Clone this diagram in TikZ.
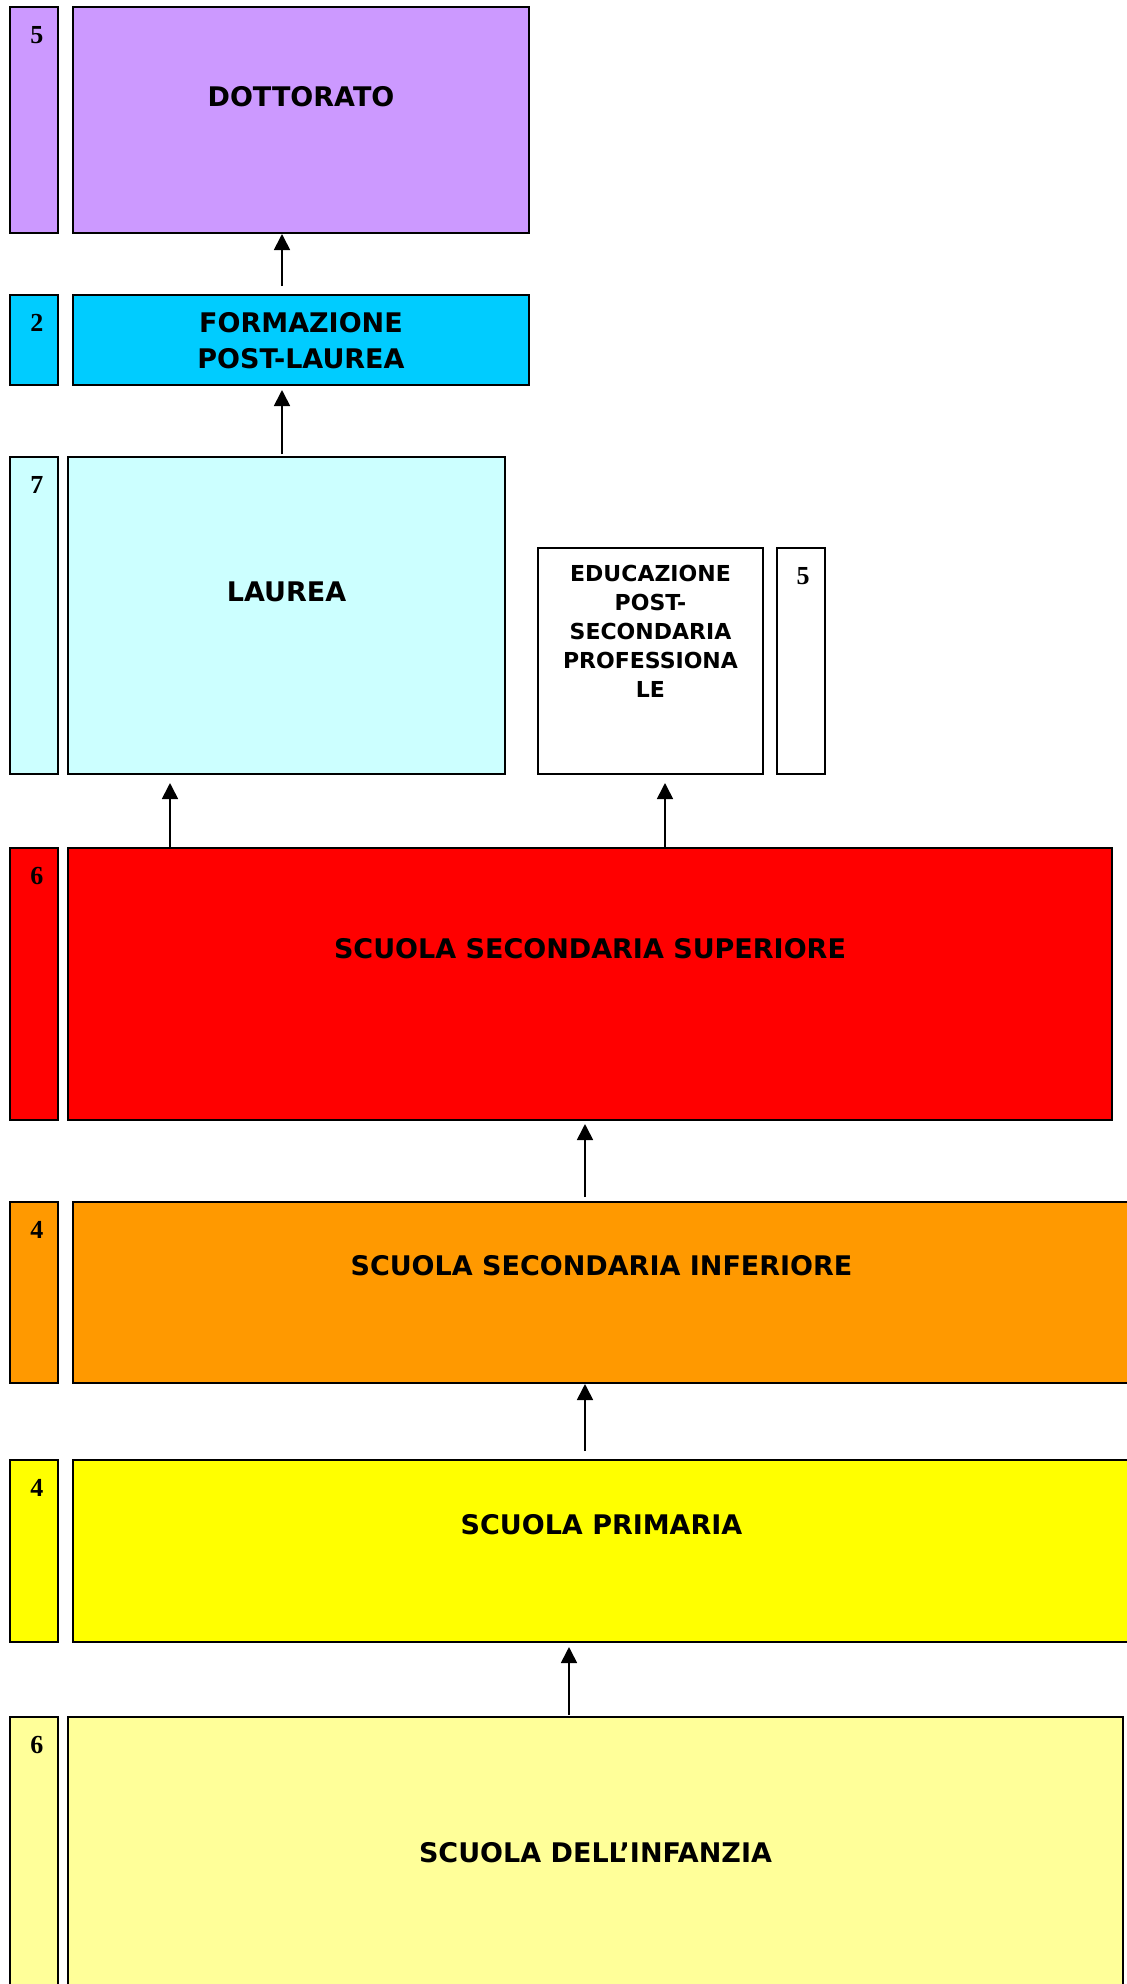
\documentclass[tikz,border=0pt]{standalone}
\usepackage{fontspec}
\setmainfont{Liberation Serif}
\newfontfamily\lblfont{DejaVu Sans Bold}
\usepackage{xcolor}
\usepackage{tikz}
\usetikzlibrary{arrows.meta, positioning}
\definecolor{dottcol}{HTML}{CC99FF}
\definecolor{formcol}{HTML}{00CCFF}
\definecolor{laurcol}{HTML}{CCFFFF}
\definecolor{supcol}{HTML}{FF0000}
\definecolor{infcol}{HTML}{FF9900}
\definecolor{primcol}{HTML}{FFFF00}
\definecolor{matcol}{HTML}{FFFF99}
\def\bigt{\lblfont\fontsize{27}{36}\selectfont}
\def\smallt{\lblfont\fontsize{22}{29}\selectfont}
\def\numt{\bfseries\fontsize{26}{30}\selectfont}

\begin{document}
\begin{tikzpicture}[x=1pt,y=-1pt,
  box/.style={draw,line width=2.2pt,anchor=north west,inner sep=0pt,outer sep=0pt},
  yrs/.style={font=\numt,anchor=north,inner sep=0pt},
  lbl/.style={font=\bigt,align=center,inner sep=0pt},
  arr/.style={line width=1.7pt,-{Triangle[length=16pt,width=16pt]}}]
\useasboundingbox (0,0) rectangle (1127,1984);
\clip (0,0) rectangle (1127,1984);
% dottorato
\node[box,fill=dottcol,minimum width=48,minimum height=226] (n5a) at (10,7) {};
\node[box,fill=dottcol,minimum width=456,minimum height=226] (dott) at (73,7) {};
\node[yrs] (y5a) at ([xshift=3pt,yshift=-19pt]n5a.north) {5};
\node[lbl] (tdott) at ([yshift=-90pt]dott.north) {DOTTORATO};
% formazione post-laurea
\node[box,fill=formcol,minimum width=48,minimum height=90] (n2) at (10,295) {};
\node[box,fill=formcol,minimum width=456,minimum height=90] (form) at (73,295) {};
\node[yrs] (y2) at ([xshift=3pt,yshift=-19pt]n2.north) {2};
\node[lbl] (tform) at ([yshift=-46pt]form.north) {FORMAZIONE\\POST-LAUREA};
% laurea
\node[box,fill=laurcol,minimum width=48,minimum height=317] (n7) at (10,457) {};
\node[box,fill=laurcol,minimum width=437,minimum height=317] (laurea) at (68,457) {};
\node[yrs] (y7) at ([xshift=3pt,yshift=-19pt]n7.north) {7};
\node[lbl] (tlaurea) at ([yshift=-135pt]laurea.north) {LAUREA};
% post-secondaria
\node[box,fill=white,minimum width=225,minimum height=226] (edu) at (538,548) {};
\node[box,fill=white,minimum width=48,minimum height=226] (n5b) at (777,548) {};
\node[yrs] (y5b) at ([xshift=2pt,yshift=-19pt]n5b.north) {5};
\node[lbl,font=\smallt] (tedu) at ([yshift=-83pt]edu.north) {EDUCAZIONE\\POST-\\SECONDARIA\\PROFESSIONA\\LE};
% secondaria superiore
\node[box,fill=supcol,minimum width=48,minimum height=272] (n6a) at (10,848) {};
\node[box,fill=supcol,minimum width=1044,minimum height=272] (sup) at (68,848) {};
\node[yrs] (y6a) at ([xshift=3pt,yshift=-19pt]n6a.north) {6};
\node[lbl] (tsup) at ([yshift=-101pt]sup.north) {SCUOLA SECONDARIA SUPERIORE};
% secondaria inferiore
\node[box,fill=infcol,minimum width=48,minimum height=181] (n4a) at (10,1202) {};
\node[box,fill=infcol,minimum width=1057,minimum height=181] (inf) at (73,1202) {};
\node[yrs] (y4a) at ([xshift=3pt,yshift=-19pt]n4a.north) {4};
\node[lbl] (tinf) at ([yshift=-64pt]inf.north) {SCUOLA SECONDARIA INFERIORE};
% primaria
\node[box,fill=primcol,minimum width=48,minimum height=182] (n4b) at (10,1460) {};
\node[box,fill=primcol,minimum width=1057,minimum height=182] (prim) at (73,1460) {};
\node[yrs] (y4b) at ([xshift=3pt,yshift=-19pt]n4b.north) {4};
\node[lbl] (tprim) at ([yshift=-65pt]prim.north) {SCUOLA PRIMARIA};
% infanzia
\node[box,fill=matcol,minimum width=48,minimum height=300] (n6b) at (10,1717) {};
\node[box,fill=matcol,minimum width=1055,minimum height=300] (mat) at (68,1717) {};
\node[yrs] (y6b) at ([xshift=3pt,yshift=-19pt]n6b.north) {6};
\node[lbl] (tmat) at ([yshift=-136pt]mat.north) {SCUOLA DELL’INFANZIA};
% frecce
\draw[arr] ([xshift=-19pt,yshift=9pt]form.north) -- ([xshift=-19pt,yshift=-1pt]dott.south);
\draw[arr] ([xshift=-4.5pt,yshift=3pt]laurea.north) -- ([xshift=-19pt,yshift=-5pt]form.south);
\draw[arr] ([xshift=-420pt,yshift=1pt]sup.north) -- ([xshift=-116.5pt,yshift=-9pt]laurea.south);
\draw[arr] ([xshift=75pt,yshift=1pt]sup.north) -- ([xshift=14.5pt,yshift=-9pt]edu.south);
\draw[arr] ([xshift=-16.5pt,yshift=5pt]inf.north) -- ([xshift=-5pt,yshift=-4pt]sup.south);
\draw[arr] ([xshift=-16.5pt,yshift=9pt]prim.north) -- ([xshift=-16.5pt,yshift=-1pt]inf.south);
\draw[arr] ([xshift=-26.5pt,yshift=2pt]mat.north) -- ([xshift=-32.5pt,yshift=-5pt]prim.south);
\end{tikzpicture}
\end{document}
